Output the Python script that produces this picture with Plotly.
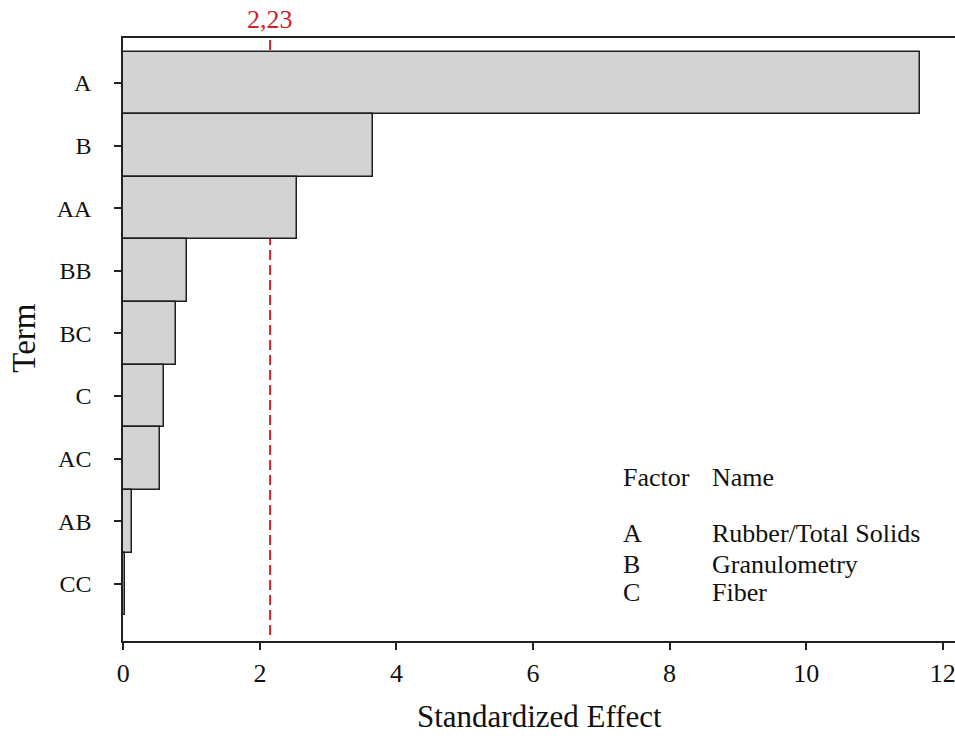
import plotly.graph_objects as go

terms = ["A", "B", "AA", "BB", "BC", "C", "AC", "AB", "CC"]
effects = [11.67, 3.66, 2.55, 0.93, 0.77, 0.59, 0.53, 0.13, 0.03]
threshold_value = 2.15
threshold_label = "2,23"
x_ticks = [0, 2, 4, 6, 8, 10, 12]
factor_codes = ["A", "B", "C"]
factor_names = ["Rubber/Total Solids", "Granulometry", "Fiber"]

FONT = "Liberation Serif, Times New Roman, serif"
RED = "#d0202a"
TXT = "#111"

fig = go.Figure()
fig.add_trace(go.Bar(
    x=effects, y=terms, orientation="h", width=1,
    marker=dict(color="#d3d3d3", line=dict(color="#1f1f1f", width=1.5)),
    showlegend=False, hoverinfo="skip",
))

fig.add_shape(type="line", xref="x", yref="paper",
              x0=threshold_value, x1=threshold_value, y0=0.01, y1=1,
              line=dict(color=RED, width=2, dash="10px,5px"), layer="below")

fig.add_annotation(x=threshold_value, xref="x", y=1.031, yref="paper",
                   text=threshold_label, showarrow=False, yanchor="middle",
                   font=dict(family=FONT, size=26, color=RED))

# Axis titles
fig.add_annotation(x=0.5, xref="paper", y=-0.1245, yref="paper",
                   text="Standardized Effect", showarrow=False, yanchor="middle",
                   font=dict(family=FONT, size=31, color=TXT))
fig.add_annotation(x=-0.119, xref="paper", y=0.503, yref="paper",
                   text="Term", showarrow=False, textangle=-90,
                   xanchor="center", yanchor="middle",
                   font=dict(family=FONT, size=33, color=TXT))

# Factor table
col1, col2 = 0.598, 0.705
fs = 26
fig.add_annotation(x=col1, y=0.2705, xref="paper", yref="paper", text="Factor",
                   showarrow=False, xanchor="left", yanchor="middle",
                   font=dict(family=FONT, size=fs, color=TXT))
fig.add_annotation(x=col2, y=0.2705, xref="paper", yref="paper", text="Name",
                   showarrow=False, xanchor="left", yanchor="middle",
                   font=dict(family=FONT, size=fs, color=TXT))
rows_y = [0.1776, 0.127, 0.0805]
for code, name, yy in zip(factor_codes, factor_names, rows_y):
    fig.add_annotation(x=col1, y=yy, xref="paper", yref="paper", text=code,
                       showarrow=False, xanchor="left", yanchor="middle",
                       font=dict(family=FONT, size=fs, color=TXT))
    fig.add_annotation(x=col2, y=yy, xref="paper", yref="paper", text=name,
                       showarrow=False, xanchor="left", yanchor="middle",
                       font=dict(family=FONT, size=fs, color=TXT))

fig.update_layout(
    width=955, height=747,
    margin=dict(l=123, r=0, t=38, b=106, pad=0),
    paper_bgcolor="white", plot_bgcolor="white",
    bargap=0,
    font=dict(family=FONT, size=25, color=TXT),
    xaxis=dict(range=[-0.005, 12.18], tickvals=x_ticks,
               showline=True, linecolor="#222", linewidth=1.5, mirror=True,
               ticks="outside", ticklen=7, tickwidth=1.5, tickcolor="#222",
               showgrid=False, zeroline=False, ticklabelstandoff=1,
               ticklabeloverflow="allow",
               tickfont=dict(family=FONT, size=26, color=TXT)),
    yaxis=dict(type="category", categoryorder="array", categoryarray=terms,
               range=[8.91, -0.716],
               showline=True, linecolor="#222", linewidth=1.5,
               ticks="outside", ticklen=7, tickwidth=1.5, tickcolor="#222",
               showgrid=False, zeroline=False, ticklabelstandoff=18,
               tickfont=dict(family=FONT, size=24, color=TXT)),
)

fig.write_html("out.html", config={"displayModeBar": False},
               post_script="document.body.style.margin='0';document.body.style.overflow='hidden';")
